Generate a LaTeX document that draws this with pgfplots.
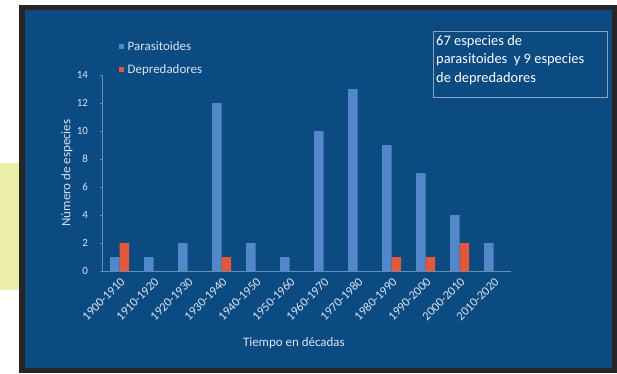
\documentclass[border=0pt]{standalone}
\usepackage{fontspec}
\setmainfont{Carlito}
\usepackage{pgfplots}
\pgfplotsset{compat=1.18}
\definecolor{panel}{RGB}{12,74,130}
\definecolor{barblue}{RGB}{82,136,202}
\definecolor{barred}{RGB}{226,88,58}
\definecolor{txt}{RGB}{215,228,242}
\definecolor{axisc}{RGB}{105,140,180}
\definecolor{yell}{RGB}{234,238,168}
\begin{document}
\begin{tikzpicture}[x=1bp,y=1bp]
\useasboundingbox (0,0) rectangle (617,373);
\fill[white] (0,0) rectangle (617,373);
\fill[yell] (0,83) rectangle (19,210);
\fill[black!85] (19,0) rectangle (617,368);
\fill[panel] (25,5) rectangle (612,363);
\begin{axis}[
  at={(102.5bp,102bp)}, anchor=south west,
  scale only axis, width=408bp, height=196bp,
  xmin=-0.5, xmax=11.5, ymin=0, ymax=14,
  ybar, bar width=9.5bp,
  axis x line*=bottom, axis y line*=left,
  x axis line style={axisc}, y axis line style={axisc},
  xtick={0,...,11},
  xticklabels={1900-1910,1910-1920,1920-1930,1930-1940,1940-1950,1950-1960,1960-1970,1970-1980,1980-1990,1990-2000,2000-2010,2010-2020},
  ytick={0,2,...,14},
  /pgf/number format/assume math mode=true,
  major tick length=3bp, tick align=outside,
  tick style={axisc, line width=0.6pt},
  x tick style={draw=none},
  extra x ticks={-0.5,0.5,...,11.5}, extra x tick labels={},
  extra x tick style={tick style={draw=axisc}},
  ticklabel style={text=txt},
  xticklabel style={font=\fontsize{12.5}{14}\selectfont, xshift=4bp, yshift=-5bp, rotate=45, anchor=east, inner sep=1bp},
  yticklabel style={font=\fontsize{11}{13}\selectfont, xshift=-8bp},
  xlabel={Tiempo en décadas}, ylabel={Número de especies},
  label style={font=\fontsize{13}{15}\selectfont, text=txt},
  xlabel style={at={(axis description cs:0.469,-0.367)}, anchor=center},
  ylabel style={at={(axis description cs:-0.087,0.5)}, anchor=center},
  legend style={at={(axis description cs:0,1)}, anchor=north west, xshift=16bp, yshift=36bp,
    draw=none, fill=none, font=\fontsize{13}{15}\selectfont, text=txt, inner sep=0pt, row sep=9bp},
  legend cell align=left,
  legend image code/.code={\fill[#1] (0bp,-2.5bp) rectangle (5bp,2.5bp);},
  /tikz/every odd column/.append style={column sep=2bp},
]
\addplot[fill=barblue, draw=none, bar shift=-4.75bp] coordinates {
(0,1) (1,1) (2,2) (3,12) (4,2) (5,1) (6,10) (7,13) (8,9) (9,7) (10,4) (11,2)};
\addplot[fill=barred, draw=none, bar shift=4.75bp] coordinates {
(0,2) (3,1) (8,1) (9,1) (10,2)};
\legend{Parasitoides,Depredadores}
\end{axis}
\draw[axisc!80!white, line width=0.8pt] (433,276) rectangle (607,342);
\node[anchor=north west, align=left, text=white, inner sep=0pt, font=\fontsize{14.5}{18.5}\selectfont] at (436,338) {67 especies de\\parasitoides\ \ y 9 especies\\de depredadores};
\end{tikzpicture}
\end{document}
